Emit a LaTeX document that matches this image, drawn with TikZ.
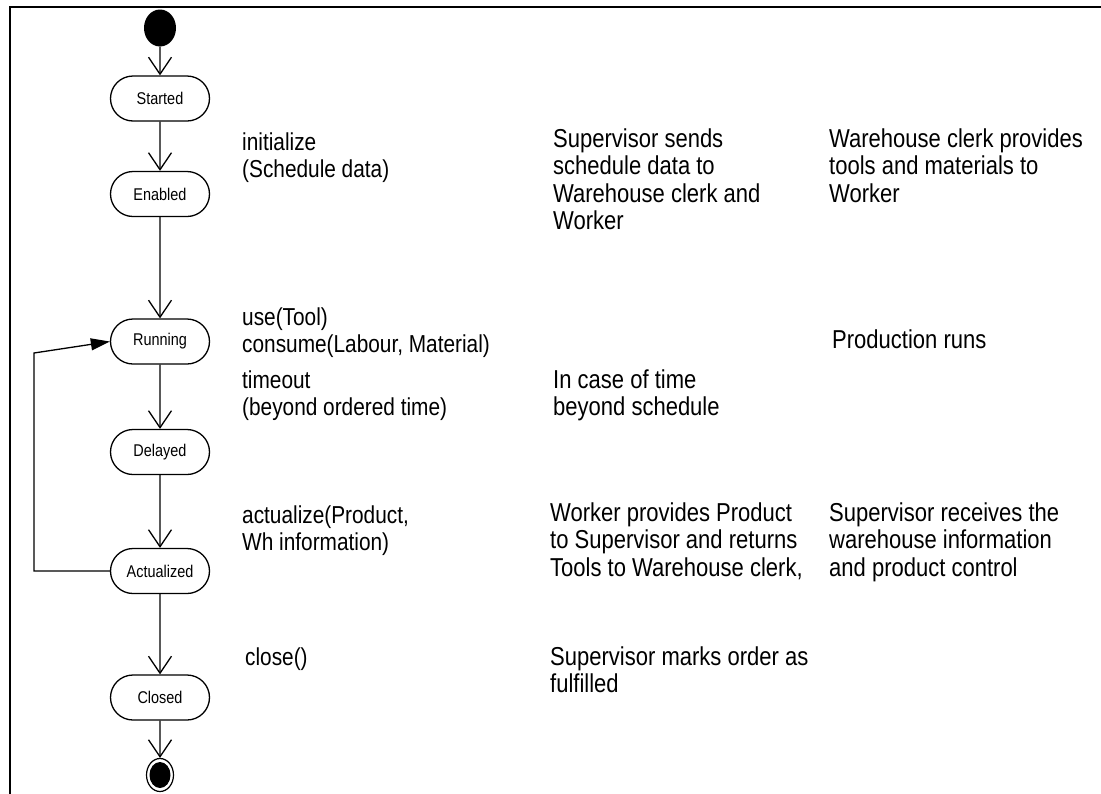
\documentclass[tikz,border=0pt]{standalone}
\usepackage{fontspec}
\setmainfont{Liberation Sans}
\newfontfamily\narrowsans{Liberation Sans}[FakeStretch=0.85]
\usetikzlibrary{shapes.misc,shapes.geometric,arrows.meta}
\newcommand\stack[1]{\begin{tabular}[t]{@{}l@{}}#1\end{tabular}}

\begin{document}
\begin{tikzpicture}[x=1pt,y=-1pt,
  state/.style={rounded rectangle, draw, line width=1.3pt, fill=white,
    minimum width=99pt, minimum height=45pt, inner sep=0pt,
    font=\narrowsans\fontsize{17}{20}\selectfont},
  trans/.style={line width=1.3pt,
    -{Straight Barb[length=17pt,width=23pt,line width=1.3pt]}},
  back/.style={line width=1.3pt, -{Triangle[length=19pt,width=12pt]}},
  evt/.style={anchor=base west, inner sep=0pt,
    font=\narrowsans\fontsize{24.5}{27.5}\selectfont},
  note/.style={anchor=base west, inner sep=0pt,
    font=\narrowsans\fontsize{25.9}{27.5}\selectfont},
]
\useasboundingbox (0,0) rectangle (1101,793);

% frame
\draw[line width=2.4pt] (10,800) -- (10,7) -- (1110,7);

% initial and final pseudo-states
\node[ellipse, fill=black, inner sep=0pt, minimum width=32pt, minimum height=37pt] (init) at (160,28) {};
\node[ellipse, draw, line width=1.2pt, inner sep=0pt, minimum width=27pt, minimum height=33pt] (final) at (160,775) {};
\node[ellipse, fill=black, inner sep=0pt, minimum width=21pt, minimum height=26pt] (finalcore) at (final) {};

% states
\node[state] (started) at (160,98.5) {Started};
\node[state] (enabled) at (160,194) {Enabled};
\node[state] (running) at (160,341.5) {Running};
\node[state] (delayed) at (160,452) {Delayed};
\node[state] (actual) at (160,571) {Actualized};
\node[state] (closed) at (160,697.5) {Closed};

% transitions
\draw[trans] (init) -- (started);
\draw[trans] (started) -- (enabled);
\draw[trans] (enabled) -- (running);
\draw[trans] (running) -- (delayed);
\draw[trans] (delayed) -- (actual);
\draw[trans] (actual) -- (closed);
\draw[trans] (closed) -- (final);

% loop back from Actualized to Running
\coordinate (loopbot) at (34,571);
\coordinate (looptop) at (34,353);
\draw[back] (actual.west) -- (loopbot) -- (looptop) -- (running.west);

% transition labels
\node[evt] (l1) at (242,150) {\stack{initialize\\(Schedule data)}};
\node[evt] (l2) at (242,325) {\stack{use(Tool)\\consume(Labour, Material)}};
\node[evt] (l3) at (242,388) {\stack{timeout\\(beyond ordered time)}};
\node[evt] (l4) at (242,523) {\stack{actualize(Product,\\Wh information)}};
\node[evt] (l5) at (245,665) {\stack{close()}};

% descriptions
\node[note] (d1) at (553,147) {\stack{Supervisor sends\\schedule data to\\Warehouse clerk and\\Worker}};
\node[note] (d2) at (829,147) {\stack{Warehouse clerk provides\\tools and materials to\\Worker}};
\node[note] (d3) at (832,348) {\stack{Production runs}};
\node[note] (d4) at (553,388) {\stack{In case of time\\beyond schedule}};
\node[note] (d5) at (550,521) {\stack{Worker provides Product\\to Supervisor and returns\\Tools to Warehouse clerk,}};
\node[note] (d6) at (829,521) {\stack{Supervisor receives the\\warehouse information\\and product control}};
\node[note] (d7) at (550,665) {\stack{Supervisor marks order as\\fulfilled}};
\end{tikzpicture}
\end{document}
